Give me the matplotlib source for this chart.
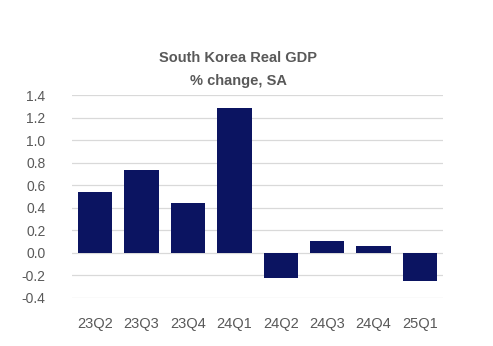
import matplotlib
matplotlib.use('Agg')
import matplotlib.pyplot as plt

quarters = ['23Q2', '23Q3', '23Q4', '24Q1', '24Q2', '24Q3', '24Q4', '25Q1']
gdp_change = [0.54, 0.74, 0.44, 1.29, -0.23, 0.10, 0.06, -0.25]
y_ticks = [-0.4, -0.2, 0.0, 0.2, 0.4, 0.6, 0.8, 1.0, 1.2, 1.4]

plt.rcParams['font.family'] = ['Liberation Sans', 'DejaVu Sans']
text_color = '#595959'

fig = plt.figure(figsize=(4.93, 3.46), dpi=100)
ax = fig.add_axes([0.146, 0.140, 0.753, 0.584])

ax.bar(range(len(quarters)), gdp_change, width=0.74, color='#0b1461', zorder=3)

ax.set_xlim(-0.5, len(quarters) - 0.5)
ax.set_ylim(-0.4, 1.4)
ax.set_yticks(y_ticks)
ax.set_yticklabels([f'{v:.1f}' for v in y_ticks])
ax.set_xticks(range(len(quarters)))
ax.set_xticklabels(quarters)

ax.grid(axis='y', color='#d9d9d9', linewidth=0.9, zorder=0)
for s in ax.spines.values():
    s.set_visible(False)
ax.tick_params(axis='y', length=0, pad=19, labelsize=10, labelcolor=text_color)
ax.tick_params(axis='x', length=0, pad=14, labelsize=10.5, labelcolor=text_color)

fig.text(0.483, 0.832, 'South Korea Real GDP', ha='center', va='center',
         fontsize=10.5, fontweight='bold', color=text_color)
fig.text(0.483, 0.766, '% change, SA', ha='center', va='center',
         fontsize=10.5, fontweight='bold', color=text_color)

fig.savefig('out.png', dpi=100)
